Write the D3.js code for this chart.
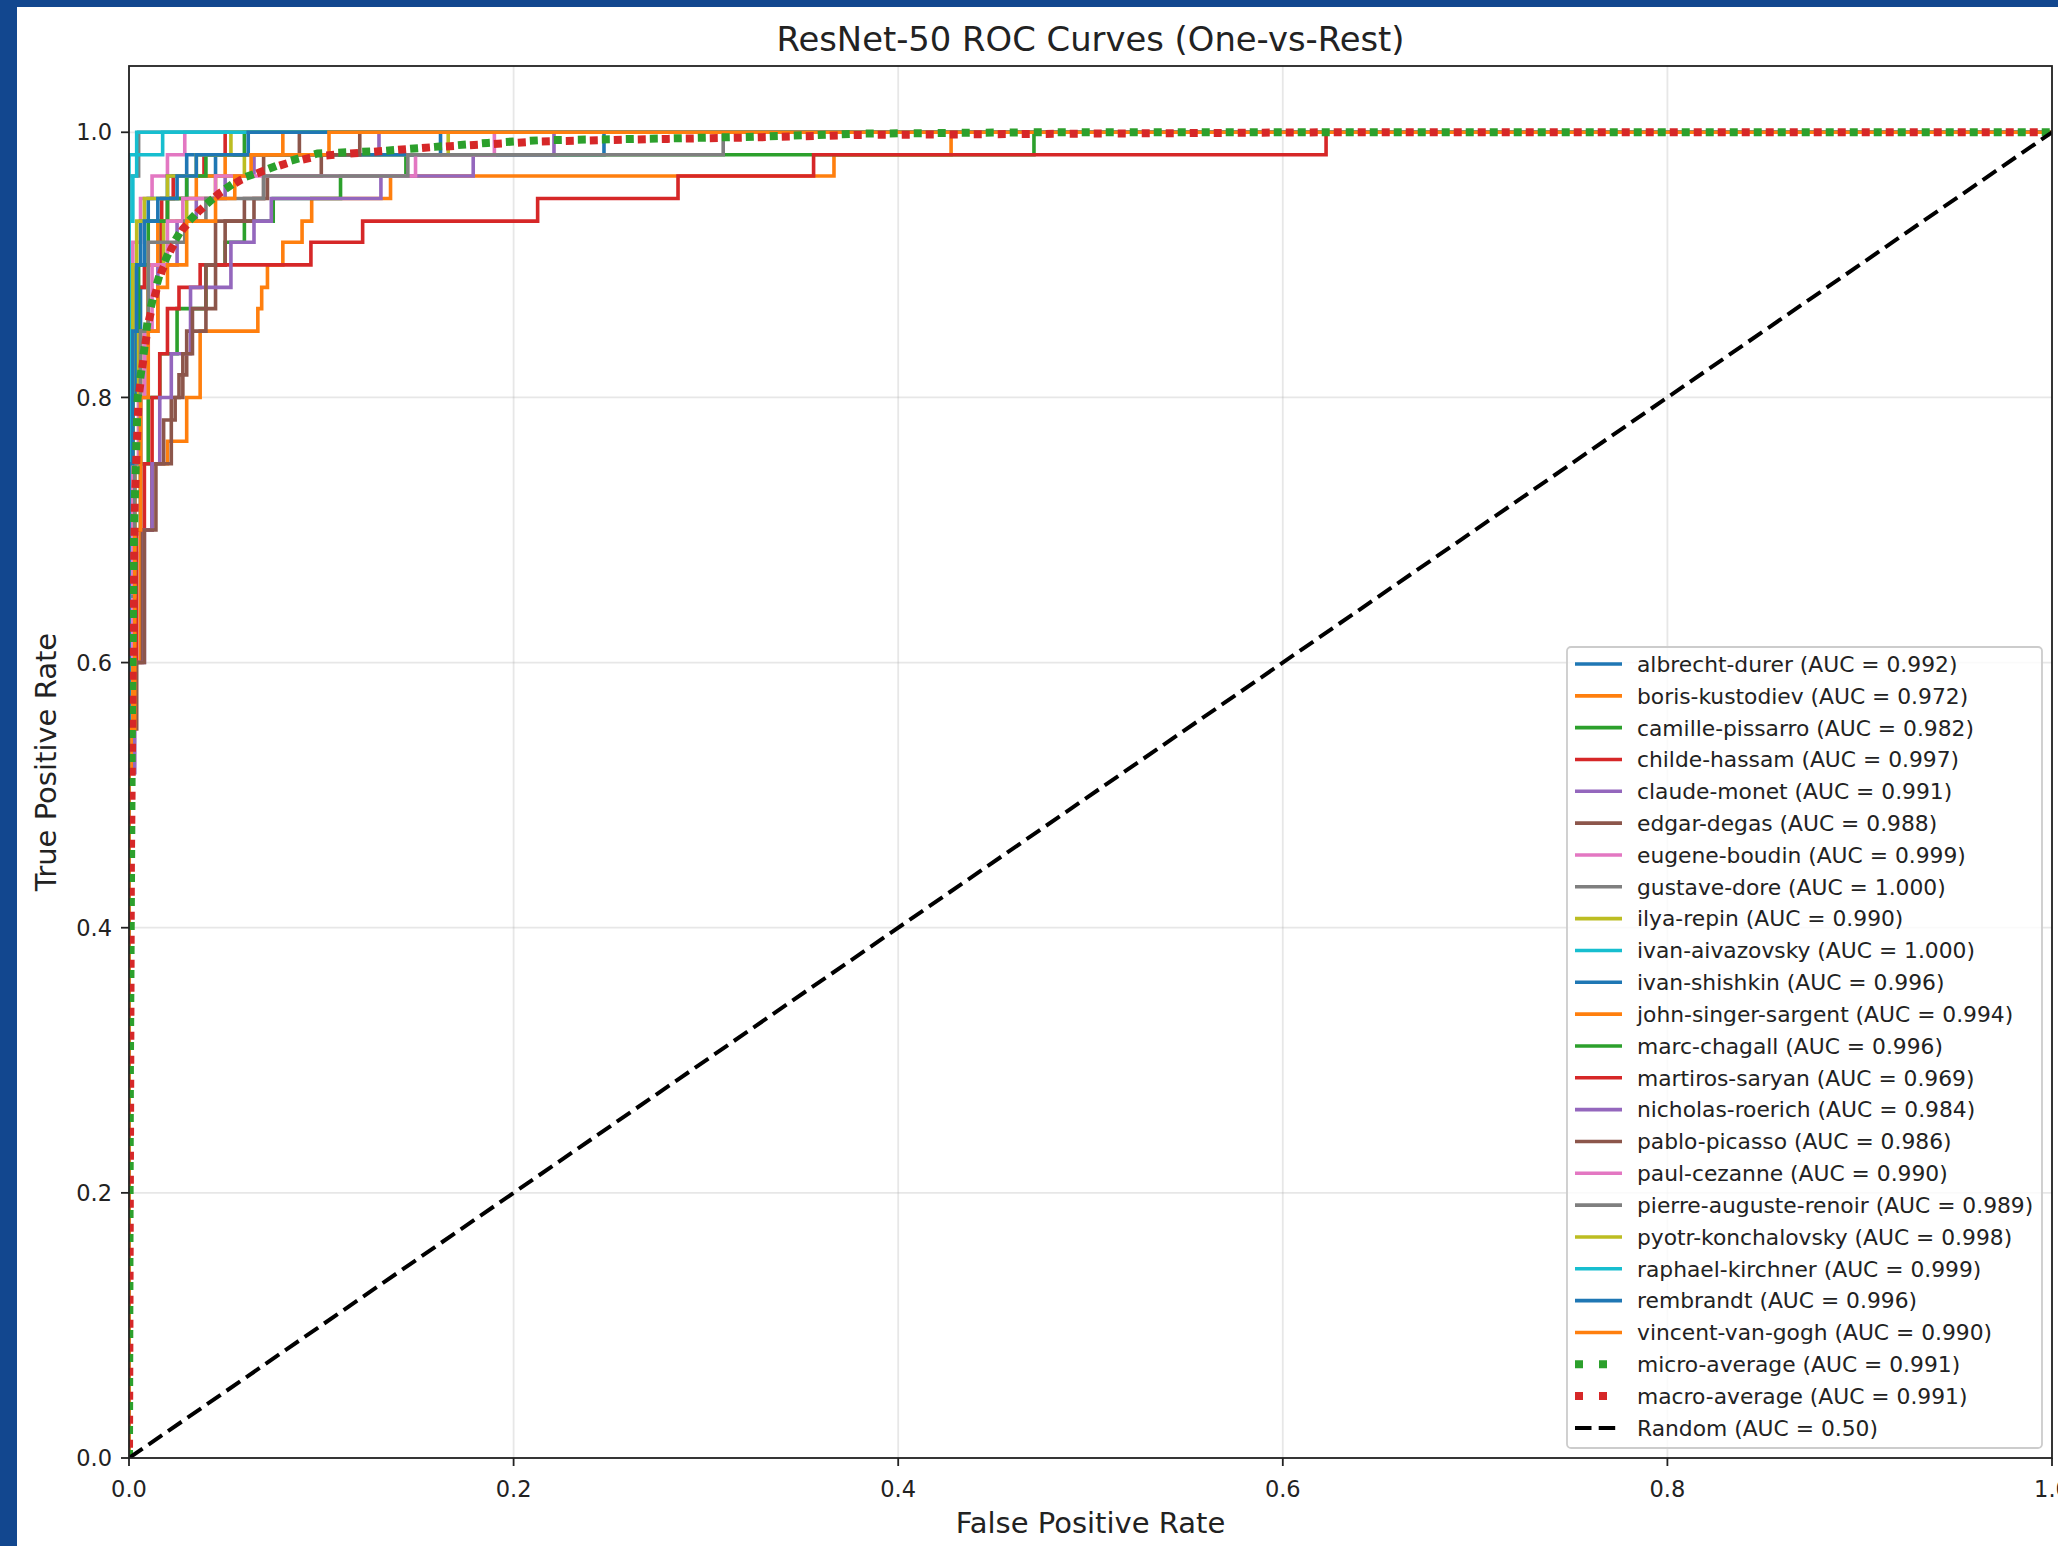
<!DOCTYPE html>
<html>
<head>
<meta charset="utf-8">
<script src="https://cdn.jsdelivr.net/npm/d3@7"></script>
<style>
  html, body { margin: 0; padding: 0; background: #12478f; }
  svg { display: block; }
</style>
</head>
<body>
<div id="chart"></div>
<script>
// ---------- data ----------
const classNames = [
  "albrecht-durer", "boris-kustodiev", "camille-pissarro", "childe-hassam",
  "claude-monet", "edgar-degas", "eugene-boudin", "gustave-dore", "ilya-repin",
  "ivan-aivazovsky", "ivan-shishkin", "john-singer-sargent", "marc-chagall",
  "martiros-saryan", "nicholas-roerich", "pablo-picasso", "paul-cezanne",
  "pierre-auguste-renoir", "pyotr-konchalovsky", "raphael-kirchner",
  "rembrandt", "vincent-van-gogh"
];
const classAuc = [
  0.992, 0.972, 0.982, 0.997, 0.991, 0.988, 0.999, 1.000, 0.990, 1.000, 0.996,
  0.994, 0.996, 0.969, 0.984, 0.986, 0.990, 0.989, 0.998, 0.999, 0.996, 0.990
];
const microAuc = 0.991;
const macroAuc = 0.991;
const randomAuc = 0.50;

// [fpr, tpr] : at this fpr the tpr steps up to this value
const rocSteps = [
  [[0,0],[0,0.7],[0.002,0.8],[0.004,0.85],[0.006,0.883],[0.01,0.9],[0.016,0.933],[0.02,0.95],[0.03,0.967],[0.045,0.983],[0.247,1],[1,1]],
  [[0,0],[0,0.517],[0.002,0.6],[0.006,0.7],[0.012,0.75],[0.02,0.767],[0.03,0.8],[0.037,0.85],[0.067,0.867],[0.069,0.883],[0.072,0.9],[0.08,0.917],[0.09,0.933],[0.095,0.95],[0.136,0.967],[0.3666,0.983],[0.4275,1],[1,1]],
  [[0,0],[0,0.6],[0.003,0.7],[0.006,0.75],[0.01,0.8],[0.016,0.833],[0.025,0.867],[0.04,0.9],[0.05,0.917],[0.06,0.933],[0.075,0.95],[0.11,0.967],[0.144,0.983],[0.4706,1],[1,1]],
  [[0,0],[0,0.75],[0.002,0.85],[0.004,0.883],[0.008,0.9],[0.017,0.95],[0.023,0.967],[0.039,0.983],[0.05,1],[1,1]],
  [[0,0],[0,0.55],[0.003,0.7],[0.006,0.8],[0.01,0.85],[0.015,0.9],[0.025,0.933],[0.035,0.95],[0.05,0.967],[0.065,0.983],[0.13,1],[1,1]],
  [[0,0],[0,0.6],[0.007,0.7],[0.012,0.75],[0.022,0.8],[0.026,0.817],[0.03,0.85],[0.04,0.867],[0.045,0.9],[0.05,0.933],[0.065,0.95],[0.07,0.983],[0.0886,1],[1,1]],
  [[0,0],[0,0.85],[0.002,0.917],[0.006,0.95],[0.012,0.967],[0.02,0.983],[0.029,1],[1,1]],
  [[0,0],[0,0.967],[0.005,1],[1,1]],
  [[0,0],[0,0.55],[0.003,0.75],[0.005,0.85],[0.01,0.9],[0.018,0.933],[0.03,0.95],[0.045,0.967],[0.06,0.983],[0.166,1],[1,1]],
  [[0,0],[0,0.983],[0.004,1],[1,1]],
  [[0,0],[0,0.8],[0.002,0.9],[0.006,0.933],[0.01,0.95],[0.02,0.967],[0.03,0.983],[0.162,1],[1,1]],
  [[0,0],[0,0.6],[0.003,0.75],[0.006,0.85],[0.01,0.9],[0.015,0.933],[0.02,0.95],[0.035,0.967],[0.05,0.983],[0.08,1],[1,1]],
  [[0,0],[0,0.7],[0.002,0.85],[0.005,0.9],[0.01,0.933],[0.02,0.95],[0.03,0.967],[0.04,0.983],[0.06,1],[1,1]],
  [[0,0],[0,0.6],[0.004,0.7],[0.008,0.75],[0.012,0.8],[0.016,0.833],[0.02,0.867],[0.026,0.883],[0.037,0.9],[0.0946,0.917],[0.1215,0.933],[0.2125,0.95],[0.2855,0.967],[0.356,0.983],[0.6225,1],[1,1]],
  [[0,0],[0,0.517],[0.003,0.6],[0.008,0.7],[0.012,0.75],[0.016,0.8],[0.022,0.833],[0.032,0.883],[0.053,0.917],[0.065,0.933],[0.074,0.95],[0.131,0.967],[0.179,0.983],[0.221,1],[1,1]],
  [[0,0],[0,0.55],[0.004,0.6],[0.008,0.7],[0.014,0.75],[0.018,0.783],[0.024,0.8],[0.028,0.833],[0.033,0.867],[0.04,0.9],[0.045,0.933],[0.06,0.95],[0.072,0.967],[0.1,0.983],[0.12,1],[1,1]],
  [[0,0],[0,0.6],[0.002,0.75],[0.005,0.8],[0.008,0.85],[0.012,0.9],[0.02,0.933],[0.028,0.95],[0.045,0.967],[0.149,0.983],[0.19,1],[1,1]],
  [[0,0],[0,0.65],[0.003,0.75],[0.006,0.85],[0.01,0.917],[0.029,0.933],[0.04,0.95],[0.07,0.967],[0.145,0.983],[0.309,1],[1,1]],
  [[0,0],[0,0.75],[0.002,0.9],[0.004,0.933],[0.008,0.95],[0.02,0.967],[0.035,0.983],[0.053,1],[1,1]],
  [[0,0],[0,0.933],[0.002,0.967],[0.004,0.983],[0.0175,1],[1,1]],
  [[0,0],[0,0.75],[0.002,0.85],[0.004,0.9],[0.008,0.933],[0.015,0.95],[0.025,0.967],[0.035,0.983],[0.062,1],[1,1]],
  [[0,0],[0,0.55],[0.003,0.7],[0.006,0.8],[0.01,0.85],[0.015,0.883],[0.02,0.9],[0.03,0.933],[0.045,0.95],[0.055,0.967],[0.0635,0.983],[0.104,1],[1,1]]
];

// averaged curves, [fpr, tpr] polyline points
const microPoints = [
  [0,0],[0.0005,0.3],[0.0015,0.55],[0.0026,0.7],[0.0045,0.8],[0.0079,0.836],[0.0097,0.858],
  [0.013,0.878],[0.0166,0.896],[0.0218,0.913],[0.0279,0.928],[0.0364,0.941],[0.0478,0.955],
  [0.058,0.965],[0.07,0.971],[0.0825,0.978],[0.098,0.984],[0.133,0.986],[0.159,0.989],
  [0.1865,0.992],[0.214,0.994],[0.278,0.9953],[0.32,0.9965],[0.382,0.999],[0.47,1],[1,1]
];
const macroPoints = [
  [0,0],[0.001,0.45],[0.002,0.6],[0.003,0.72],[0.005,0.8],[0.008,0.835],[0.01,0.856],
  [0.0135,0.877],[0.017,0.895],[0.022,0.912],[0.028,0.927],[0.036,0.94],[0.047,0.954],
  [0.058,0.964],[0.07,0.971],[0.083,0.977],[0.098,0.982],[0.133,0.986],[0.16,0.989],
  [0.187,0.991],[0.214,0.993],[0.28,0.995],[0.32,0.996],[0.38,0.998],[0.6225,1],[1,1]
];

const xTicks = [0, 0.2, 0.4, 0.6, 0.8, 1.0];
const yTicks = [0, 0.2, 0.4, 0.6, 0.8, 1.0];

// ---------- layout ----------
const width = 2058, height = 1546;
const plot = { left: 129, right: 2052, top: 66, bottom: 1458 };
const font = "'DejaVu Sans', sans-serif";
const textColor = "#222222";
const colors = d3.schemeCategory10;
const microColor = "#2ca02c", macroColor = "#d62728";
const dotDash = [8, 16];
const classWidth = 3.6;

const svg = d3.select("#chart").append("svg")
  .attr("width", width)
  .attr("height", height)
  .attr("viewBox", `0 0 ${width} ${height}`);

// white canvas inside the blue frame
svg.append("rect")
  .attr("x", 17).attr("y", 7)
  .attr("width", width - 17).attr("height", height - 7)
  .attr("fill", "#ffffff");

const x = d3.scaleLinear().domain([0, 1]).range([plot.left, plot.right]);
const y = d3.scaleLinear().domain([0, 1.05]).range([plot.bottom, plot.top]);

svg.append("defs").append("clipPath").attr("id", "plot-clip")
  .append("rect")
  .attr("x", plot.left).attr("y", plot.top)
  .attr("width", plot.right - plot.left).attr("height", plot.bottom - plot.top);

// grid
const grid = svg.append("g");
grid.selectAll(".gx").data(xTicks).enter().append("line")
  .attr("x1", d => x(d)).attr("x2", d => x(d))
  .attr("y1", plot.top).attr("y2", plot.bottom)
  .attr("stroke", "#b0b0b0").attr("stroke-opacity", 0.3).attr("stroke-width", 1.8);
grid.selectAll(".gy").data(yTicks).enter().append("line")
  .attr("y1", d => y(d)).attr("y2", d => y(d))
  .attr("x1", plot.left).attr("x2", plot.right)
  .attr("stroke", "#b0b0b0").attr("stroke-opacity", 0.3).attr("stroke-width", 1.8);

// curves
const curves = svg.append("g").attr("clip-path", "url(#plot-clip)");
const stepLine = d3.line().x(d => x(d[0])).y(d => y(d[1])).curve(d3.curveStepAfter);
const polyLine = d3.line().x(d => x(d[0])).y(d => y(d[1]));

curves.selectAll(".roc").data(rocSteps).enter().append("path")
  .attr("class", "roc")
  .attr("d", d => stepLine(d))
  .attr("fill", "none")
  .attr("stroke", (d, i) => colors[i % 10])
  .attr("stroke-width", classWidth)
  .attr("stroke-linejoin", "miter");

const microPath = curves.append("path")
  .attr("d", polyLine(microPoints))
  .attr("fill", "none").attr("stroke", microColor)
  .attr("stroke-width", 8).attr("stroke-dasharray", dotDash.join(","));
const macroPath = curves.append("path")
  .attr("d", polyLine(macroPoints))
  .attr("fill", "none").attr("stroke", macroColor)
  .attr("stroke-width", 8).attr("stroke-dasharray", dotDash.join(","));

// shift macro dots half a period so the two rows alternate along TPR = 1
const period = dotDash[0] + dotDash[1];
const lMicro = microPath.node().getTotalLength();
const lMacro = macroPath.node().getTotalLength();
const shift = ((lMicro - lMacro + period / 2) % period + period) % period;
macroPath.attr("stroke-dashoffset", shift);

curves.append("path")
  .attr("d", polyLine([[0, 0], [1, 1]]))
  .attr("fill", "none").attr("stroke", "#000000")
  .attr("stroke-width", 4).attr("stroke-dasharray", "16.5,7.2");

// frame
svg.append("rect")
  .attr("x", plot.left).attr("y", plot.top)
  .attr("width", plot.right - plot.left).attr("height", plot.bottom - plot.top)
  .attr("fill", "none").attr("stroke", "#222222").attr("stroke-width", 1.8);

// ticks
const axes = svg.append("g")
  .style("font-family", font).style("fill", textColor);
axes.selectAll(".xt").data(xTicks).enter().append("line")
  .attr("x1", d => x(d)).attr("x2", d => x(d))
  .attr("y1", plot.bottom).attr("y2", plot.bottom + 8)
  .attr("stroke", "#222222").attr("stroke-width", 1.8);
axes.selectAll(".xl").data(xTicks).enter().append("text")
  .attr("x", d => x(d)).attr("y", plot.bottom + 39)
  .attr("text-anchor", "middle")
  .style("font-size", "22.5px")
  .text(d => d.toFixed(1));
axes.selectAll(".yt").data(yTicks).enter().append("line")
  .attr("y1", d => y(d)).attr("y2", d => y(d))
  .attr("x1", plot.left - 8).attr("x2", plot.left)
  .attr("stroke", "#222222").attr("stroke-width", 1.8);
axes.selectAll(".yl").data(yTicks).enter().append("text")
  .attr("x", plot.left - 17).attr("y", d => y(d))
  .attr("dy", "0.36em")
  .attr("text-anchor", "end")
  .style("font-size", "22.5px")
  .text(d => d.toFixed(1));

// titles
svg.append("text")
  .attr("x", (plot.left + plot.right) / 2).attr("y", 51)
  .attr("text-anchor", "middle")
  .style("font-family", font).style("font-size", "33.8px").style("fill", textColor)
  .text("ResNet-50 ROC Curves (One-vs-Rest)");
svg.append("text")
  .attr("x", (plot.left + plot.right) / 2).attr("y", 1533)
  .attr("text-anchor", "middle")
  .style("font-family", font).style("font-size", "29px").style("fill", textColor)
  .text("False Positive Rate");
svg.append("text")
  .attr("transform", `translate(56, ${(plot.top + plot.bottom) / 2}) rotate(-90)`)
  .attr("text-anchor", "middle")
  .style("font-family", font).style("font-size", "29px").style("fill", textColor)
  .text("True Positive Rate");

// legend
const legendItems = classNames.map((name, i) => ({
  label: `${name} (AUC = ${classAuc[i].toFixed(3)})`,
  color: colors[i % 10], dash: null, width: classWidth
})).concat([
  { label: `micro-average (AUC = ${microAuc.toFixed(3)})`, color: microColor, dash: dotDash.join(","), width: 8 },
  { label: `macro-average (AUC = ${macroAuc.toFixed(3)})`, color: macroColor, dash: dotDash.join(","), width: 8 },
  { label: `Random (AUC = ${randomAuc.toFixed(2)})`, color: "#000000", dash: "16.5,7.2", width: 4 }
]);

const legend = svg.append("g");
legend.append("rect")
  .attr("x", 1567).attr("y", 647)
  .attr("width", 475).attr("height", 801)
  .attr("rx", 4)
  .attr("fill", "#ffffff").attr("fill-opacity", 0.8)
  .attr("stroke", "#cccccc").attr("stroke-width", 1.8);

const rowStep = 31.83, rowTop = 664;
const rows = legend.selectAll(".row").data(legendItems).enter().append("g")
  .attr("transform", (d, i) => `translate(0, ${rowTop + i * rowStep})`);
rows.append("line")
  .attr("x1", 1575).attr("x2", 1622)
  .attr("stroke", d => d.color)
  .attr("stroke-width", d => d.width)
  .attr("stroke-dasharray", d => d.dash);
rows.append("text")
  .attr("x", 1637).attr("dy", "0.36em")
  .style("font-family", font).style("font-size", "21.8px").style("fill", textColor)
  .text(d => d.label);
</script>
</body>
</html>
